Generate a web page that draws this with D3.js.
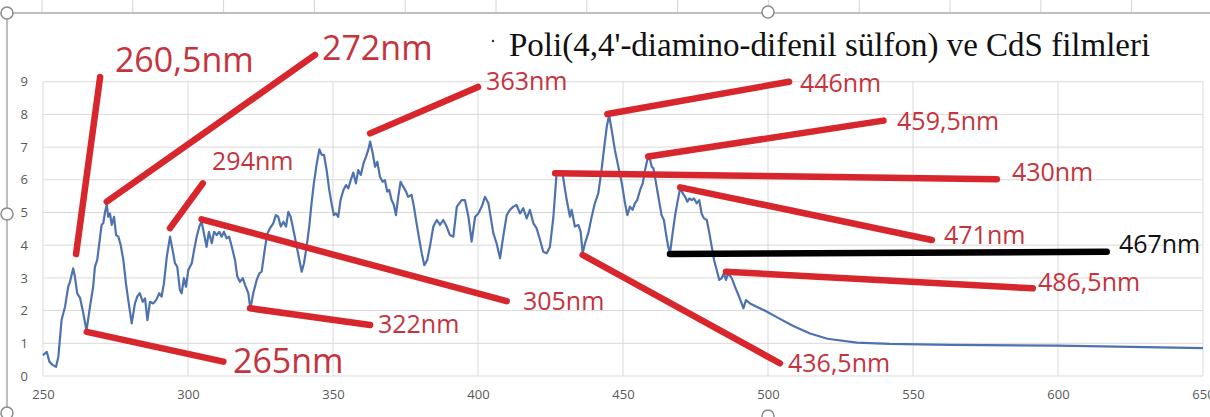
<!DOCTYPE html>
<html><head><meta charset="utf-8">
<script src="https://cdn.jsdelivr.net/npm/d3@7"></script>
<style>html,body{margin:0;padding:0;background:#fff;}svg{display:block;}</style>
</head><body>
<svg id="chart" width="1210" height="417"></svg>
<script>
// ---- data ----
const wavelength = [250.0,251.3,252.2,253.3,254.5,255.3,256.4,257.6,258.7,259.3,260.4,261.0,261.8,262.8,263.9,265.0,266.2,267.3,267.9,268.7,269.7,270.2,270.8,271.4,272.0,272.5,273.1,273.7,274.5,275.2,276.0,276.8,277.7,278.6,279.4,280.6,281.7,282.5,283.4,284.4,285.2,286.0,286.9,288.0,289.0,290.1,290.9,291.7,292.7,293.8,294.7,295.5,296.3,297.2,297.8,298.6,299.3,300.1,301.3,302.1,303.0,303.9,304.7,305.5,306.4,307.2,308.2,309.0,309.9,310.8,311.6,312.4,313.3,314.2,315.1,316.2,317.0,317.9,318.9,319.7,320.8,321.5,322.5,323.7,324.6,325.4,326.6,327.4,328.3,329.4,330.3,331.1,332.0,332.9,333.8,334.6,335.4,336.6,337.5,338.4,339.2,340.0,340.9,341.8,342.6,343.4,344.4,345.3,346.1,346.9,347.8,348.7,349.5,350.3,351.0,351.8,352.6,353.6,354.5,355.3,356.1,357.0,357.9,358.7,359.6,360.5,361.4,362.2,362.8,363.7,364.5,365.3,366.2,367.1,367.9,368.7,369.4,370.2,371.0,371.7,372.5,373.3,374.2,375.2,375.9,377.1,377.9,378.9,379.8,380.6,381.5,382.5,383.4,384.6,385.8,386.9,388.0,389.2,390.3,391.5,392.7,394.4,395.5,396.7,397.8,399.0,400.1,401.3,402.4,403.6,405.3,406.4,407.6,408.7,409.9,411.0,412.2,413.3,414.5,415.6,416.8,417.9,419.1,420.2,421.4,422.5,423.7,424.8,426.0,427.1,428.3,429.3,430.6,431.7,432.3,433.4,434.6,435.4,436.1,436.9,438.0,439.2,440.3,441.5,442.6,443.4,444.4,445.2,446.1,447.2,448.4,449.6,450.7,451.5,452.4,453.3,454.1,454.9,455.9,456.8,457.6,458.4,459.1,459.9,460.5,461.4,462.2,463.3,464.1,464.8,465.6,466.2,467.1,467.9,468.7,469.7,470.6,471.4,472.2,472.9,473.7,474.5,475.4,476.3,477.1,477.9,478.9,479.8,480.6,481.4,482.3,483.2,484.0,484.8,485.5,486.3,487.5,488.6,489.8,490.9,491.5,492.4,493.8,496.1,499.5,503.0,508.7,514.5,520.5,530.6,542.0,563.0,600.0,625.0,650.0];
const absorbance = [0.64,0.74,0.44,0.34,0.28,0.59,1.71,2.12,2.73,2.88,3.29,3.04,2.53,2.38,1.92,1.38,2.12,2.73,3.34,3.55,4.26,4.62,4.68,5.02,5.23,4.87,4.97,4.62,4.87,4.31,4.26,4.00,3.55,2.83,2.32,1.61,2.22,2.43,2.53,2.27,2.37,1.71,2.27,2.22,2.32,2.53,2.43,2.83,3.65,4.26,3.85,3.45,3.34,2.63,2.53,2.99,2.73,3.24,3.45,3.85,4.26,4.57,4.72,4.36,3.95,4.41,4.06,4.41,4.31,4.41,4.26,4.41,4.21,4.26,3.95,3.55,3.04,2.88,2.99,2.78,2.53,2.05,2.53,2.94,3.14,3.19,3.95,4.36,4.52,4.67,4.92,4.87,4.57,4.72,4.57,5.02,4.87,4.36,3.95,3.55,3.19,3.45,3.95,4.57,5.28,5.89,6.50,6.93,6.76,6.76,6.30,5.69,5.28,4.92,4.97,4.87,5.38,5.69,5.84,5.74,5.99,6.22,5.89,6.30,6.15,6.50,6.71,6.93,7.17,6.81,6.40,6.55,6.09,5.94,5.99,5.64,5.69,5.38,5.23,4.92,5.48,5.94,5.79,5.64,5.48,5.54,5.18,4.62,4.16,3.75,3.39,3.55,3.95,4.57,4.77,4.62,4.77,4.57,4.31,4.26,5.18,5.38,5.38,4.87,4.11,4.87,4.97,5.18,5.48,5.28,4.36,4.06,3.60,4.26,4.92,5.08,5.18,5.23,4.97,5.13,4.82,5.08,4.67,4.52,4.16,3.80,3.75,3.95,4.87,6.20,6.25,6.10,5.38,4.87,5.08,4.57,4.62,4.41,3.75,4.06,4.36,4.87,5.28,5.59,6.30,6.91,7.62,7.98,7.52,6.91,6.40,5.89,5.28,4.92,5.18,5.08,5.28,5.38,5.69,5.89,6.30,6.61,6.71,6.40,6.35,5.89,5.48,4.92,4.77,4.36,3.95,3.75,4.36,4.87,5.28,5.74,5.59,5.48,5.33,5.43,5.38,5.43,5.28,5.38,4.97,4.82,4.77,4.36,3.95,3.55,3.24,2.94,2.99,3.14,2.94,3.14,2.99,2.73,2.48,2.22,2.07,2.32,2.22,2.12,1.97,1.80,1.53,1.30,1.14,1.02,0.98,0.95,0.93,0.89,0.85];
const xTicks = [250,300,350,400,450,500,550,600,650];
const yTicks = [0,1,2,3,4,5,6,7,8,9];
const title = "Poli(4,4'-diamino-difenil sülfon) ve CdS filmleri";

// annotation callouts (data units): label, from (x1,y1), to (x2,y2), label anchor (lx,ly)
const annLabels = ["260,5nm","272nm","294nm","305nm","322nm","265nm","363nm","446nm","459,5nm","430nm","471nm","467nm","486,5nm","436,5nm"];
const annX1 = [261.4,272.0,293.8,304.7,321.4,265.1,362.8,444.6,458.7,426.6,469.7,466.2,485.5,436.1];
const annY1 = [3.73,5.33,4.52,4.79,2.07,1.35,7.42,8.01,6.71,6.20,5.77,3.73,3.19,3.70];
const annX2 = [269.7,343.8,305.1,409.9,362.8,312.2,400.0,507.3,539.8,578.9,556.5,616.8,591.3,504.1];
const annY2 = [9.14,9.82,5.89,2.29,1.56,0.44,8.84,9.00,7.81,6.02,4.16,3.80,2.68,0.39];
const annLX = [274.8,346.2,308.3,415.5,365.5,315.5,402.8,511.0,544.5,584.1,560.7,621.0,593.1,506.9];
const annLY = [9.30,9.66,6.30,2.02,1.31,0.09,8.75,8.69,7.52,5.97,4.04,3.76,2.61,0.13];
const annBig = [true,true,false,false,false,true,false,false,false,false,false,false,false,false];
const annBlack = [false,false,false,false,false,false,false,false,false,false,false,true,false,false];

// ---- drawing ----
const svg = d3.select("#chart");
const W = 1210, H = 417;
const x = d3.scaleLinear().domain([250,650]).range([43,1203]);
const y = d3.scaleLinear().domain([0,9]).range([376,81.7]);

// spreadsheet decorations (frame)
const deco = svg.append("g");
for (let cx = 42; cx < W; cx += 90.8) {
  deco.append("line").attr("x1",cx).attr("x2",cx).attr("y1",0).attr("y2",12).attr("stroke","#d4d4d4").attr("stroke-width",1);
}
deco.append("line").attr("x1",7).attr("x2",W).attr("y1",13).attr("y2",13).attr("stroke","#a8a8a8").attr("stroke-width",1.5);
deco.append("line").attr("x1",7).attr("x2",7).attr("y1",13).attr("y2",H).attr("stroke","#a8a8a8").attr("stroke-width",1.5);
[[7,13],[768,12],[7,214],[7,413],[768,416]].forEach(([cx,cy])=>{
  deco.append("circle").attr("cx",cx).attr("cy",cy).attr("r",6).attr("fill","#fff").attr("stroke","#8a8a8a").attr("stroke-width",1.5);
});

// gridlines
const grid = svg.append("g");
grid.selectAll("line.h").data(yTicks).join("line").attr("class","h")
  .attr("x1",x(250)).attr("x2",x(650)).attr("y1",d=>y(d)).attr("y2",d=>y(d))
  .attr("stroke","#d9d9d9").attr("stroke-width",1);
grid.selectAll("line.v").data(xTicks).join("line").attr("class","v")
  .attr("x1",d=>x(d)).attr("x2",d=>x(d)).attr("y1",y(9)).attr("y2",y(0))
  .attr("stroke","#d9d9d9").attr("stroke-width",1);

// axes
const xAxis = svg.append("g").attr("transform",`translate(0,${y(0)})`)
  .call(d3.axisBottom(x).tickValues(xTicks).tickSize(0).tickPadding(14).tickFormat(d3.format("d")));
const yAxis = svg.append("g").attr("transform",`translate(${x(250)},0)`)
  .call(d3.axisLeft(y).tickValues(yTicks).tickSize(0).tickPadding(15).tickFormat(d3.format("d")));
[xAxis,yAxis].forEach(a=>{
  a.select(".domain").remove();
  a.selectAll("text").attr("font-family","'Open Sans', sans-serif").attr("font-size",13).attr("fill","#595959");
});

// data line
const pts = wavelength.map((w,i)=>[w,absorbance[i]]);
svg.append("path").datum(pts)
  .attr("fill","none").attr("stroke","#4e72b0").attr("stroke-width",2.2).attr("stroke-linejoin","round")
  .attr("d", d3.line().x(d=>x(d[0])).y(d=>y(d[1])));

// title
svg.append("circle").attr("cx",493).attr("cy",41).attr("r",1.2).attr("fill","#333");
svg.append("text").attr("x",509).attr("y",56).text(title)
  .attr("font-family","'Liberation Serif', 'Times New Roman', serif").attr("font-size",33).attr("fill","#111");

// annotations
const ann = svg.append("g");
annLabels.forEach((lab,i)=>{
  const col = annBlack[i] ? "#000" : "#d8262d";
  ann.append("line")
    .attr("x1",x(annX1[i])).attr("y1",y(annY1[i]))
    .attr("x2",x(annX2[i])).attr("y2",y(annY2[i]))
    .attr("stroke",col).attr("stroke-width",6.5).attr("stroke-linecap","round");
});
annLabels.forEach((lab,i)=>{
  ann.append("text").attr("x",x(annLX[i])).attr("y",y(annLY[i])).text(lab)
    .attr("font-family","'Open Sans', sans-serif")
    .attr("font-size", annBig[i] ? 34 : 25)
    .attr("fill", annBlack[i] ? "#111" : "#c5333d");
});
</script>
</body></html>
